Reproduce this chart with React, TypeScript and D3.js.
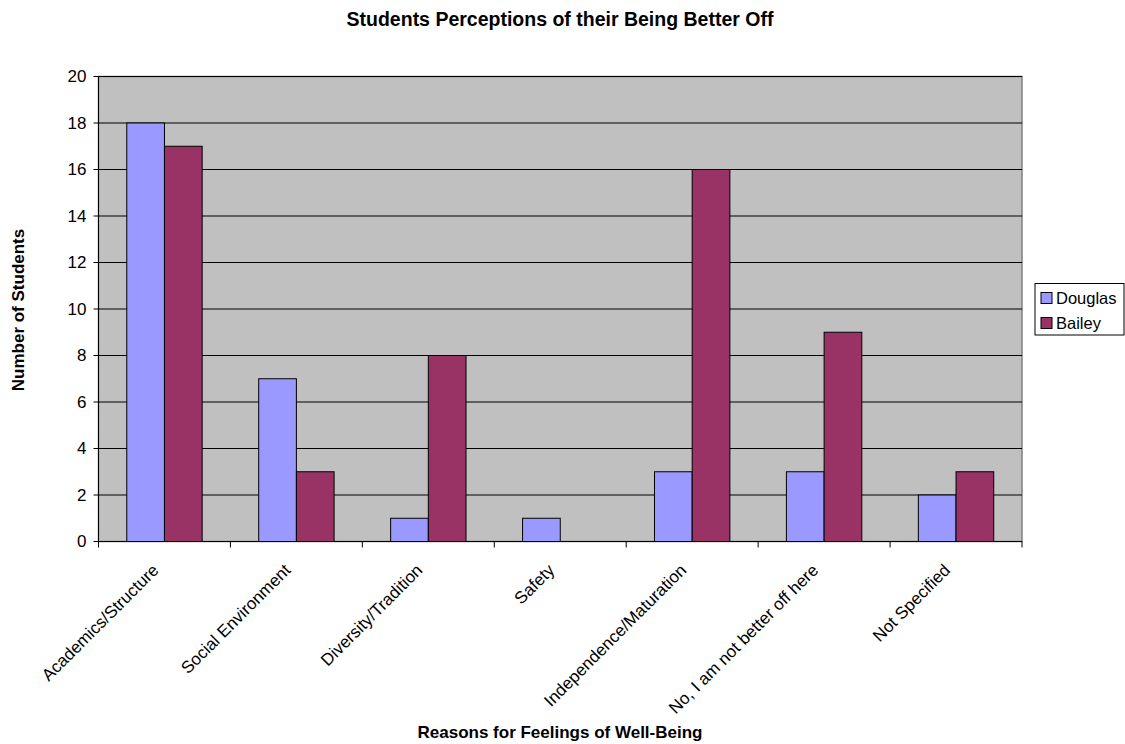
import React from "react";
import * as d3 from "d3";

const categories = [
  "Academics/Structure",
  "Social Environment",
  "Diversity/Tradition",
  "Safety",
  "Independence/Maturation",
  "No, I am not better off here",
  "Not Specified",
];
const douglas = [18, 7, 1, 1, 3, 3, 2];
const bailey = [17, 3, 8, 0, 16, 9, 3];
const seriesNames = ["Douglas", "Bailey"];
const seriesColors = ["#9999FF", "#993366"];
const yTicks = [0, 2, 4, 6, 8, 10, 12, 14, 16, 18, 20];

const W = 1125;
const H = 744;
const plot = { left: 98.5, right: 1022, top: 76.5, bottom: 541.5 };
const font = "Arial, 'Liberation Sans', Helvetica, sans-serif";

export default function App() {
  const x0 = d3
    .scaleBand<string>()
    .domain(categories)
    .range([plot.left, plot.right])
    .paddingInner(0)
    .paddingOuter(0);
  const step = x0.bandwidth();
  // Excel-style gap width of 150%: two bars plus 1.5 bar widths per category
  const barW = step / 3.5;
  const x1 = d3
    .scaleBand<string>()
    .domain(seriesNames)
    .range([0, barW * 2]);
  const y = d3.scaleLinear().domain([0, 20]).range([plot.bottom, plot.top]);

  const values = [douglas, bailey];

  return (
    <svg
      width={W}
      height={H}
      style={{ position: "absolute", left: 0, top: 0, fontFamily: font }}
    >
      <rect x={0} y={0} width={W} height={H} fill="#ffffff" />
      {/* plot background */}
      <rect
        x={plot.left}
        y={plot.top}
        width={plot.right - plot.left}
        height={plot.bottom - plot.top}
        fill="#C0C0C0"
        stroke="#808080"
        strokeWidth={1.5}
      />
      {/* gridlines */}
      {yTicks.map((t) => (
        <line
          key={"g" + t}
          x1={plot.left}
          x2={plot.right}
          y1={y(t)}
          y2={y(t)}
          stroke="#000"
          strokeWidth={1}
        />
      ))}
      {/* bars */}
      {categories.map((c, i) =>
        seriesNames.map((s, j) => {
          const v = values[j][i];
          if (!v) return null;
          const bx = (x0(c) as number) + (step - barW * 2) / 2 + (x1(s) as number);
          return (
            <rect
              key={c + s}
              x={bx}
              y={y(v)}
              width={x1.bandwidth()}
              height={y(0) - y(v)}
              fill={seriesColors[j]}
              stroke="#000"
              strokeWidth={1}
            />
          );
        })
      )}
      {/* axes */}
      <line x1={plot.left} x2={plot.left} y1={plot.top} y2={plot.bottom} stroke="#000" />
      <line x1={plot.left} x2={plot.right} y1={plot.bottom} y2={plot.bottom} stroke="#000" />
      {yTicks.map((t) => (
        <g key={"yt" + t}>
          <line x1={plot.left - 5} x2={plot.left} y1={y(t)} y2={y(t)} stroke="#000" />
          <text
            x={plot.left - 12}
            y={y(t)}
            dy="0.35em"
            textAnchor="end"
            fontSize={17}
            fill="#000"
          >
            {t}
          </text>
        </g>
      ))}
      {d3.range(categories.length + 1).map((i) => {
        const tx = plot.left + i * step;
        return (
          <line key={"xt" + i} x1={tx} x2={tx} y1={plot.bottom} y2={plot.bottom + 6} stroke="#000" />
        );
      })}
      {categories.map((c) => {
        const cx = (x0(c) as number) + step / 2;
        return (
          <text
            key={"xl" + c}
            transform={`translate(${cx - 9},${567}) rotate(-45)`}
            textAnchor="end"
            fontSize={17}
            dy="0.35em"
            fill="#000"
          >
            {c}
          </text>
        );
      })}
      {/* titles */}
      <text x={560} y={26} textAnchor="middle" fontSize={19.5} fontWeight="bold" fill="#000">
        Students Perceptions of their Being Better Off
      </text>
      <text x={560} y={738} textAnchor="middle" fontSize={17} fontWeight="bold" fill="#000">
        Reasons for Feelings of Well-Being
      </text>
      <text
        transform={`translate(24,310) rotate(-90)`}
        textAnchor="middle"
        fontSize={17}
        fontWeight="bold"
        fill="#000"
      >
        Number of Students
      </text>
      {/* legend */}
      <rect x={1035} y={283.5} width={89} height={51.5} fill="#fff" stroke="#000" strokeWidth={1} />
      {seriesNames.map((s, j) => (
        <g key={"lg" + s} transform={`translate(1041,${298 + j * 25})`}>
          <rect x={0} y={-5.5} width={11} height={11} fill={seriesColors[j]} stroke="#000" />
          <text x={15} y={0} dy="0.35em" fontSize={16.5} fill="#000">
            {s}
          </text>
        </g>
      ))}
    </svg>
  );
}
